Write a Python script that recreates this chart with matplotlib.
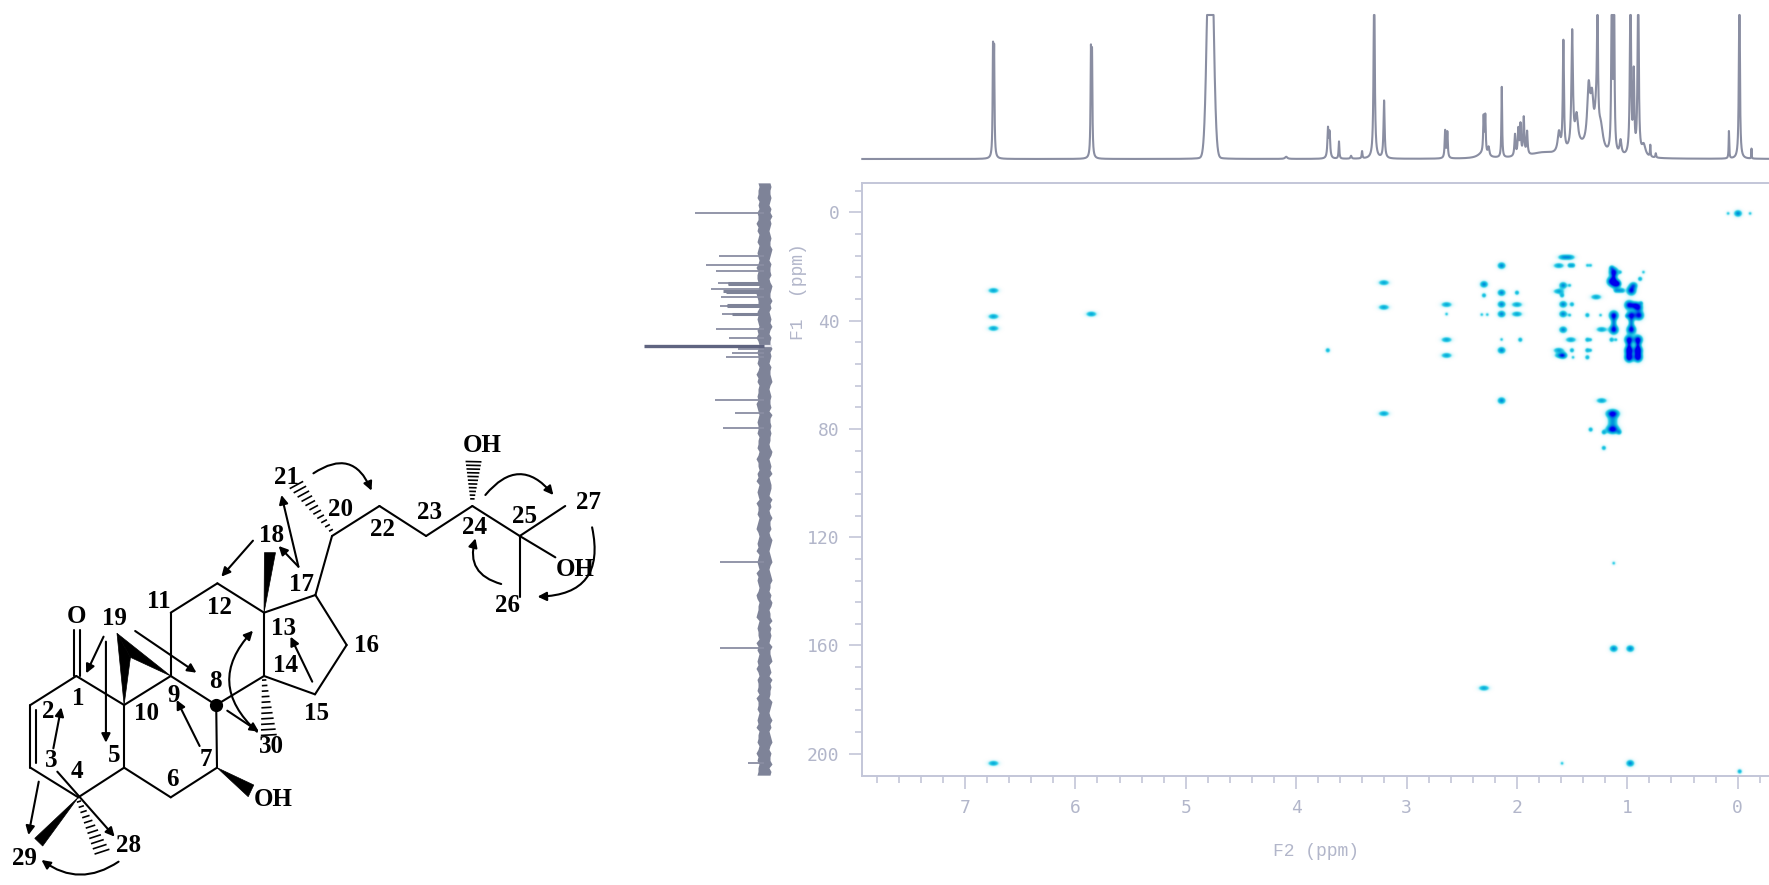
import numpy as np
import matplotlib
matplotlib.use("Agg")
import matplotlib.pyplot as plt
from matplotlib.colors import LinearSegmentedColormap
from matplotlib.patches import Polygon, FancyArrowPatch

W, H = 1769, 885
AX_L, AX_T, AX_B = 862.3, 182.7, 775.7
F2_LIM = (7.93, -0.2835)
F1_LIM = (208.1, -10.96)
F2_CAL = 110/110.39   # small correction of the F2 read-off against the axis ticks
GRAY = "#7e8398"
AXC = "#c3c6d8"
TXC = "#b2b6ca"

# ---------- 2D correlation peaks (F2 ppm, F1 ppm) ----------
spots_tiny = [(2.62,37.4),(2.12,46.8),(1.50,26.8),(1.50,37.8),(1.22,37.8),(1.31,19.4),(1.34,19.4),
              (1.31,46.9),(1.08,46.9),(1.47,53.4),(1.31,50.8),(1.04,21.9),(0.83,21.9),(0.85,33.3),
              (0.98,38.1),(2.30,37.6),(2.25,37.6),(0.06,0.2),(-0.14,0.2),(1.57,203.5),(1.10,129.5)]
spots_small = [(1.95,46.9),(1.48,50.8),(1.34,37.8),(1.48,33.8),(1.50,19.4),(1.47,19.4),(1.34,46.9),
               (1.12,46.9),(1.34,50.8),(1.34,53.4),(1.06,26.2),(1.08,28.7),(1.05,28.7),(1.02,28.7),
               (0.86,24.4),(1.31,80.1),(1.19,81.1),(1.05,81.1),(1.19,86.9),(1.98,29.5),(1.12,20.3),
               (2.28,30.5),(1.57,30.5),(3.70,50.8),(-0.045,206.5)]
spots_medium = [(2.28,26.4),(2.12,29.5),(2.12,33.8),(2.12,37.4),(1.56,26.8),(1.56,33.8),(1.56,37.4),
                (1.56,43.2),(1.56,52.7),(0.92,26.8),(0.91,34.2),(2.12,19.5),(2.12,50.8),(2.12,69.4),
                (0.95,203.5),(1.10,161.1),(0.95,161.1),(-0.03,0.2)]
spots_wide = [(3.19,25.8),(3.19,34.9),(3.19,74.2),(2.62,33.9),(2.62,46.9),(2.62,52.7),(1.98,33.9),
              (1.98,37.4),(1.60,19.5),(1.56,16.4),(1.50,16.4),(1.60,29.0),(1.60,50.8),(1.59,52.7),
              (1.49,46.9),(1.26,31.1),(1.21,43.1),(1.21,69.4),(6.74,28.7),(6.74,38.3),(6.74,42.7),
              (6.74,203.5),(5.85,37.4),(2.28,175.7)]
spots_strong = [(1.10,21.9),(1.12,25.3),(1.08,26.2),(0.94,28.7),(0.96,34.1),(0.88,34.9),(1.10,37.9),
                (0.94,37.9),(0.87,37.9),(1.10,43.2),(0.94,43.2),(0.96,46.9),(0.88,46.9),(0.96,50.8),
                (0.88,50.8),(0.96,53.5),(0.88,53.4)]
spots_strong_wide = [(1.11,74.2),(1.11,80.1)]
streaks = [(1.10,40.5),(0.94,40.5),(0.96,48.9),(0.88,48.9),(0.96,52.2),(0.88,52.2),(1.10,24.0)]
streak_wide = [(1.11,77.1)]

# ---------- 1H trace: (ppm, height, half width) ----------
h_peaks = [(6.745,.72,.004),(6.735,.70,.004),(5.855,.70,.004),(5.845,.68,.004),
           (3.70,.20,.006),(3.685,.17,.006),(3.60,.12,.004),(3.49,.02,.006),(3.39,.05,.004),(3.28,1.3,.006),
           (3.19,.40,.006),(2.635,.19,.005),(2.615,.18,.005),(2.285,.25,.005),(2.27,.26,.005),
           (2.24,.06,.008),(2.12,.49,.004),(2.00,.15,.006),(1.97,.18,.006),(1.95,.21,.006),(1.92,.26,.006),
           (1.89,.16,.006),(1.60,.14,.014),(1.56,.76,.006),(1.48,.80,.008),(1.44,.20,.015),
           (1.33,.40,.016),(1.30,.30,.016),(1.26,.25,.018),(1.22,.16,.025),
           (1.25,.85,.005),(1.12,1.3,.005),(1.10,1.3,.005),(1.04,.10,.010),(0.95,1.3,.006),
           (0.92,.55,.006),(0.88,1.3,.006),(0.83,.08,.020),(0.77,.08,.003),(0.72,.03,.004),(0.055,.19,.003),
           (-0.04,1.3,.005),(-0.15,.07,.002),(4.08,.015,.012)]
h_humps = [(1.42,.07,.10),(1.75,.035,.14),(2.30,.03,.05),(4.77,.03,.05)]
water = (4.77, 1.9, .026)

# ---------- 13C trace: (F1 ppm, stick length) ----------
c_shifts = [0.1,16.1,19.3,21.6,26.0,28.2,31.1,34.6,37.5,43.1,46.5,50.6,51.8,53.3,69.2,74.2,79.7,129.0,161.1,203.3]
c_heights = [69,45,58,48,46,53,43,44,42,48,35,26,32,38,49,29,41,44,44,16]
c_thick_shifts = [26.0,26.6,28.9,29.4,34.1,34.6,37.5]
c_thick_heights = [36,36,41,38,37,37,32]
solvent_shift = 49.2
solvent_height = 120
band_left = [6,5,6,6,7,5,6,5,7,6,6,8,6,7,5,6,7,5,6,7,6,5,6,8,6,7,7,6,5,6,8,7,6,6,5,7,6,7,6,5,
             7,6,8,6,5,6,7,6,6,7,5,6,8,6,7,5,6,6,7,6,8,7,6,5,6,7,6,6,7,5,6,6,
             7,5,6,8,6,6,5,7,6,8,5,6,7,6,5,8,6,6,7,5,6,7,8,6,5,6,7,6,8,5,
             6,7,6,5,8,6,7,6,5,6,8,7,5,6,6,7,8,5,6,7,6,6,5,8,6,7,5,6,7,6,
             8,6,5,7,6,6,7,5,8,6,6,7,5,6,7,6,8,5,6,6,7,5,6,8,6,7,5,6,6,7]
band_right = [6,7,6,6,7,6,5,7,6,8,6,7,6,5,6,7,6,6,8,7,6,5,7,6,6,7,5,6,8,7,6,6,8,6,7,5,6,7,6,8,
              6,5,7,6,6,8,6,7,6,5,7,6,6,7,8,6,5,6,7,6,6,7,5,8,6,6,7,6,7,6,6,5,
              6,8,7,5,6,7,6,8,5,6,7,7,6,5,8,6,7,5,6,8,6,6,7,5,6,8,7,6,5,6,
              7,8,6,5,6,7,8,6,6,5,7,6,8,7,5,6,6,8,5,7,6,7,6,5,8,6,6,7,8,5,
              6,7,5,8,6,7,6,6,5,8,7,6,5,6,8,6,7,5,6,7,8,6,5,7,6,6,8,5,7,6]

# ---------- structure, in the scheme's own drawing units ----------
bonds = [((193,768),(77,855)),((77,855),(77,1043)),((92,870),(92,1030)),((77,1043),(198,1132)),
         ((198,1132),(314,1043)),((314,1043),(314,855)),((314,855),(193,768)),((314,855),(432,768)),
         ((432,768),(547,855)),((547,855),(549,1043)),((549,1043),(432,1132)),((432,1132),(314,1043)),
         ((432,768),(432,578)),((432,578),(550,490)),((550,490),(668,578)),((668,578),(668,768)),
         ((668,768),(547,855)),((668,768),(797,823)),((797,823),(877,675)),((877,675),(798,525)),
         ((798,525),(668,578)),((798,525),(840,348)),((840,348),(960,258)),((960,258),(1078,348)),
         ((1078,348),(1195,258)),((1195,258),(1315,348)),((1315,348),(1430,258)),((1315,348),(1315,530)),
         ((1315,348),(1405,412)),((187,768),(187,630)),((202,768),(202,630))]
wedges = [[(314,855),(296,640),(330,712)],[(432,768),(296,640),(330,712)],
          [(668,578),(669,398),(697,398)],[(198,1132),(88,1255),(108,1278)],
          [(549,1043),(642,1095),(628,1130)]]
hashes = [((840,335),(750,195)),((668,775),(680,945)),((198,1140),(258,1295)),((1195,240),(1198,125))]
labels = [("O",193,590),("19",290,595),("1",197,835),("2",122,875),("3",130,1022),("4",195,1055),
          ("5",288,1005),("10",370,880),("9",440,825),("8",544,785),("7",522,1020),("6",435,1078),
          ("11",402,545),("12",556,562),("13",716,625),("14",722,735),("15",802,880),("16",928,675),
          ("17",762,493),("18",686,345),("20",862,270),("21",726,172),("22",968,328),("23",1087,278),
          ("24",1200,322),("25",1328,290),("26",1283,557),("27",1490,248),("28",325,1278),("29",62,1315),
          ("30",688,980),("OH",1220,78),("OH",1455,448),("OH",690,1140)]
arrows = [((262,650),(218,760)),((268,665),(268,968)),((342,633),(497,758)),((135,985),(155,862)),
          ((145,1055),(290,1250)),((98,1085),(72,1245)),((505,978),(447,840)),((790,785),(735,650)),
          ((640,362),(560,470)),((755,440),(705,378)),((755,440),(712,225)),((575,872),(655,935))]
curves = [((793,160),(940,212),-0.6,"-|>"),((1228,225),(1400,225),-0.6,"-|>"),((1268,492),(1203,355),-0.5,"-|>"),
          ((1498,322),(1360,530),-0.6,"-|>"),((300,1325),(105,1320),-0.35,"-|>"),((640,632),(650,935),0.5,"<|-")]

fig = plt.figure(figsize=(W/100, H/100), dpi=100, facecolor="white")

def rect(l, t, r, b):
    return [l/W, 1-b/H, (r-l)/W, (b-t)/H]

def cal(f2):
    return 7-(7-f2)*F2_CAL

# ---------- 2D panel ----------
ax = fig.add_axes(rect(AX_L, AX_T, W, AX_B))
px_x = (F2_LIM[0]-F2_LIM[1])/(W-AX_L)
px_y = (F1_LIM[0]-F1_LIM[1])/(AX_B-AX_T)
xg = np.linspace(F2_LIM[0], F2_LIM[1], int(W-AX_L)*2)
yg = np.linspace(F1_LIM[1], F1_LIM[0], int(AX_B-AX_T)*2)
XX, YY = np.meshgrid(xg, yg)
field = np.zeros_like(XX)
def add(points, amp, sx, sy):
    global field
    for f2, f1 in points:
        field = field + amp*np.exp(-((XX-cal(f2))/(sx*px_x))**2/2 - ((YY-f1)/(sy*px_y))**2/2)
add(spots_tiny, .30, 1.4, 1.4)
add(spots_small, .42, 1.7, 1.7)
add(spots_medium, .62, 2.6, 2.2)
add(spots_wide, .50, 3.5, 1.8)
add(spots_strong, 1.0, 2.9, 2.9)
add(spots_strong_wide, 1.0, 4.0, 2.6)
add(streaks, .55, 1.7, 3.6)
add(streak_wide, .55, 3.2, 5.0)
cmap = LinearSegmentedColormap.from_list("hmbc", [(0,"#ffffff"),(.12,"#d8f6fb"),(.28,"#30cfe6"),
                                                  (.5,"#05a8da"),(.72,"#0068e2"),(1,"#0000ee")])
ax.imshow(np.clip(field,0,1), extent=[F2_LIM[0],F2_LIM[1],F1_LIM[0],F1_LIM[1]], origin="upper",
          cmap=cmap, vmin=0, vmax=1, aspect="auto", interpolation="bilinear", zorder=1)
ax.set_xlim(*F2_LIM)
ax.set_ylim(*F1_LIM)
for s in ("top","left","bottom"):
    ax.spines[s].set_color(AXC); ax.spines[s].set_linewidth(1.4)
ax.spines["right"].set_visible(False)
ax.set_xticks(range(0,8))
ax.set_xticks(np.arange(-0.2,7.9,0.2), minor=True)
ax.set_yticks(range(0,201,40))
ax.set_yticks(np.arange(-8,208,8), minor=True)
ax.tick_params(which="major", length=9.5, width=1.2, color=AXC, labelcolor=TXC, labelsize=13, pad=7)
ax.tick_params(which="minor", length=5, width=1.2, color=AXC)
ax.set_xticklabels([str(v) for v in range(0,8)], family="DejaVu Sans Mono")
ax.set_yticklabels([str(v) for v in range(0,201,40)], family="DejaVu Sans Mono")
fig.text(1316/W, 1-851/H, "F2 (ppm)", family="Liberation Mono", color=TXC, fontsize=13, ha="center", va="center")
fig.text(798/W, 1-292/H, "F1  (ppm)", family="Liberation Mono", color=TXC, fontsize=13, ha="center", va="center", rotation=90)

# ---------- 1H panel ----------
ax1 = fig.add_axes(rect(AX_L, 15, W, 159))
ax1.set_xlim(*F2_LIM); ax1.set_ylim(0,1); ax1.axis("off")
ppm = np.linspace(F2_LIM[0], F2_LIM[1], 14000)
trace = water[1]*np.exp(-((ppm-cal(water[0]))/water[2])**2/2)
for c, h, w in h_peaks + h_humps:
    trace += h/(1+((ppm-cal(c))/w)**2)
ax1.plot(ppm, np.minimum(trace,1.0), color="#8a8ea2", lw=1.5, clip_on=False, solid_joinstyle="round")

# ---------- 13C panel ----------
ax2 = fig.add_axes(rect(640, AX_T, 790, AX_B))
ax2.set_xlim(124,-26); ax2.set_ylim(*F1_LIM); ax2.axis("off")
yb = np.linspace(-10.9, 207.9, len(band_left))
ax2.fill_betweenx(yb, -np.array(band_right), band_left, color=GRAY, lw=0)
ax2.hlines(solvent_shift, -8, 4, color="#e8e8ee", lw=1.6, zorder=2)
ax2.hlines(c_shifts, 0, c_heights, color="#8a8ea2", lw=1.3)
ax2.hlines(c_thick_shifts, 0, c_thick_heights, color=GRAY, lw=2.2)
ax2.hlines(solvent_shift, 0, solvent_height, color="#5f6480", lw=2.4, zorder=3)

# ---------- structure ----------
sx = W*2.53
ax3 = fig.add_axes([0,0,1,1], facecolor="none")
ax3.set_xlim(0, sx); ax3.set_ylim(1395, -1260); ax3.axis("off")
for a, b in bonds:
    ax3.plot([a[0],b[0]],[a[1],b[1]], color="k", lw=1.5, solid_capstyle="round")
for w in wedges:
    ax3.add_patch(Polygon(w, closed=True, fc="k", ec="k", lw=0.5))
for a, b in hashes:
    a_, b_ = np.array(a,float), np.array(b,float)
    d = b_-a_; n = np.array([-d[1], d[0]])/np.hypot(*d)
    for t in np.linspace(0.03,1,11):
        c = a_+d*t; hw = 3+15*t
        ax3.plot([c[0]-n[0]*hw,c[0]+n[0]*hw],[c[1]-n[1]*hw,c[1]+n[1]*hw], color="k", lw=1.2)
ax3.plot([547],[855], marker="o", ms=8.5, color="k")
for s, x, y in labels:
    ax3.text(x, y, s, family="Liberation Serif", weight="bold", fontsize=18, ha="center", va="center", color="k")
for a, b in arrows:
    ax3.add_patch(FancyArrowPatch(a, b, arrowstyle="-|>", mutation_scale=13, lw=1.5, color="k", shrinkA=0, shrinkB=0))
for a, b, r, st in curves:
    ax3.add_patch(FancyArrowPatch(a, b, arrowstyle=st, mutation_scale=13, lw=1.5, color="k",
                                  connectionstyle=f"arc3,rad={r}", shrinkA=0, shrinkB=0))

fig.savefig("out.png", dpi=100, facecolor="white")
